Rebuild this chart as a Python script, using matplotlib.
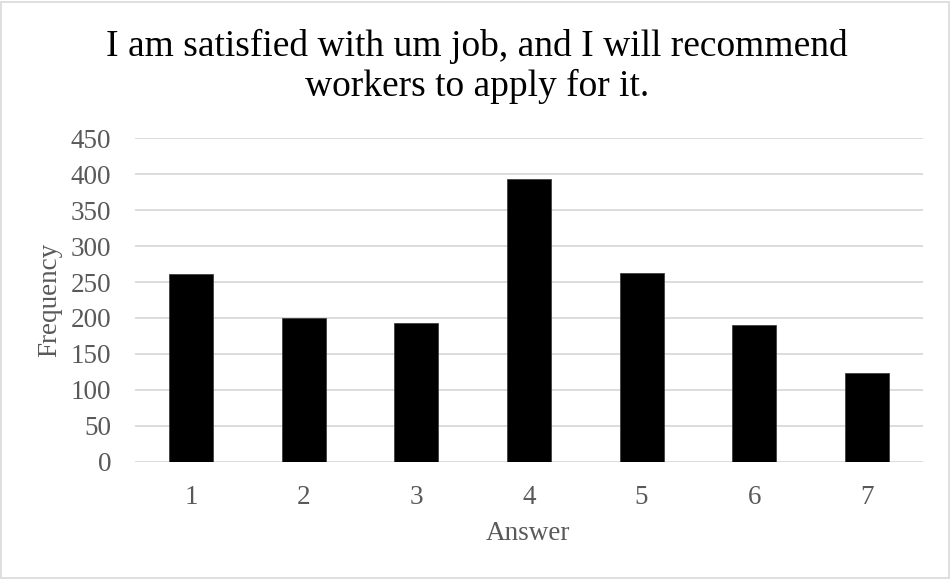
import matplotlib
matplotlib.use("Agg")
import matplotlib.pyplot as plt
from matplotlib.patches import Rectangle

answers = ["1", "2", "3", "4", "5", "6", "7"]
frequency = [261, 200, 193, 393, 262, 190, 123]
y_ticks = [0, 50, 100, 150, 200, 250, 300, 350, 400, 450]

title_lines = ["I am satisfied with um job, and I will recommend",
               "workers to apply for it."]

plt.rcParams["font.family"] = ["Liberation Serif", "DejaVu Serif"]

W, H = 951, 579
fig = plt.figure(figsize=(W / 100, H / 100), dpi=100)
fig.patch.set_facecolor("white")

ax = fig.add_axes([135 / W, 1 - 461.7 / H, (923 - 135) / W, (461.7 - 138.3) / H])
x = list(range(len(answers)))
ax.bar(x, frequency, width=0.39, color="black", edgecolor="#404040", linewidth=0.6, zorder=3)

ax.set_xlim(-0.5, len(answers) - 0.5)
ax.set_ylim(0, 450)
ax.set_yticks(y_ticks)
ax.set_xticks(x)
ax.set_xticklabels(answers)
ax.grid(axis="y", color="#d9d9d9", linewidth=1.3, zorder=0)
ax.set_axisbelow(True)
for s in ax.spines.values():
    s.set_visible(False)
ax.tick_params(axis="both", length=0, labelsize=19.5, labelcolor="#595959")
ax.tick_params(axis="y", pad=17)
ax.tick_params(axis="x", pad=17)

fig.text(528 / W, 1 - 540 / H, "Answer", ha="center", va="baseline", fontsize=19.5, color="#595959")
fig.text(50 / W, 1 - 300 / H, "Frequency", ha="center", va="center", rotation=90,
         fontsize=19.5, color="#595959")

title_baselines = [56, 96]
for line, yb in zip(title_lines, title_baselines):
    fig.text(477 / W, 1 - yb / H, line, ha="center", va="baseline", fontsize=27, color="black")

fig.patches.append(Rectangle((1 / W, 1 / H), (W - 3) / W, (H - 3) / H, transform=fig.transFigure,
                             fill=False, edgecolor="#d9d9d9", linewidth=1.2))

fig.savefig("out.png", dpi=100, facecolor="white")
